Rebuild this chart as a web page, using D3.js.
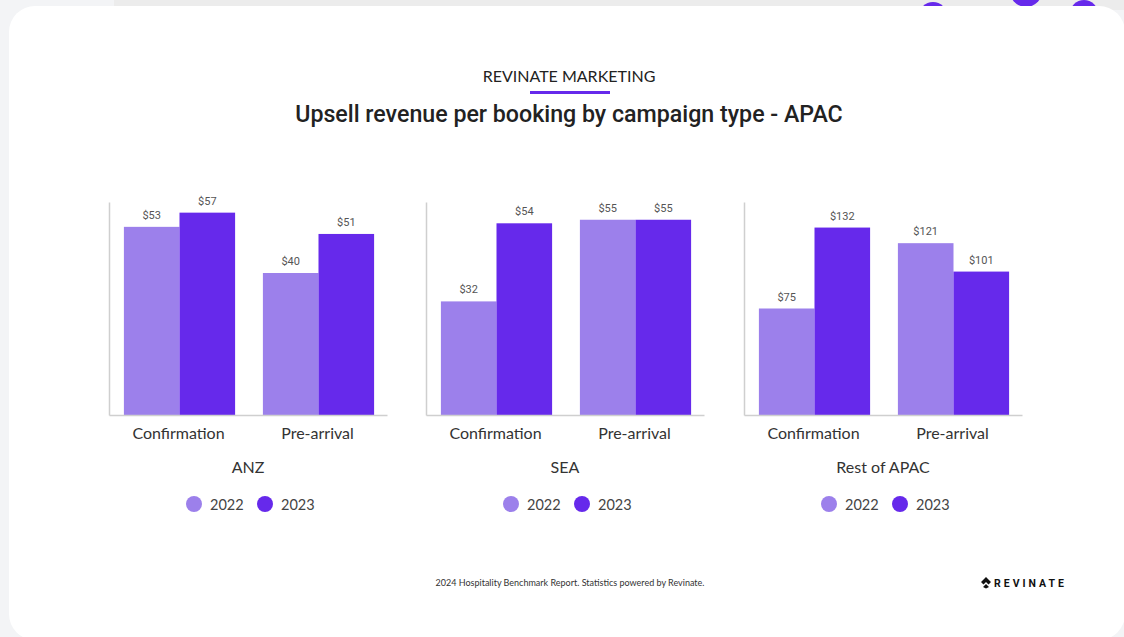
<!DOCTYPE html>
<html>
<head>
<meta charset="utf-8">
<script src="https://cdn.jsdelivr.net/npm/d3@7"></script>
<style>
  html, body { margin: 0; padding: 0; background: #f3f4f6; }
  svg { display: block; }
</style>
</head>
<body>
<svg id="chart" width="1124" height="637"></svg>
<script>
// Upsell revenue per booking, by region, campaign type and year
const regions = ["ANZ", "SEA", "Rest of APAC"];
const campaigns = ["Confirmation", "Pre-arrival"];
const years = ["2022", "2023"];
const anzValues = [[53, 57], [40, 51]];
const seaValues = [[32, 54], [55, 55]];
const restValues = [[75, 132], [121, 101]];
const regionValues = [anzValues, seaValues, restValues];
const yMax = [60, 60, 150];
const yearColors = ["#9c80eb", "#6629eb"];

const svg = d3.select("#chart");
const W = 1124, H = 637;

// page background and card
svg.append("rect").attr("x", 0).attr("y", 0).attr("width", W).attr("height", H).attr("fill", "#f3f4f6");
svg.append("rect").attr("x", 114).attr("y", 0).attr("width", W - 114).attr("height", 10).attr("fill", "#ececec");
// decorative shapes peeking above the card
svg.append("circle").attr("cx", 933).attr("cy", 16).attr("r", 14).attr("fill", "#6629eb");
svg.append("circle").attr("cx", 1026).attr("cy", -9).attr("r", 16).attr("fill", "#6629eb");
svg.append("circle").attr("cx", 1084).attr("cy", 14).attr("r", 14).attr("fill", "#6629eb");
svg.append("rect").attr("x", 9).attr("y", 6).attr("width", 1116).attr("height", 634)
  .attr("rx", 26).attr("fill", "#ffffff");

// heading
svg.append("text").attr("x", 569).attr("y", 82).attr("text-anchor", "middle")
  .attr("font-family", "Lato, sans-serif").attr("font-size", 16).attr("fill", "#222")
  .text("REVINATE MARKETING");
svg.append("rect").attr("x", 530).attr("y", 91).attr("width", 80).attr("height", 3).attr("fill", "#6629eb");
svg.append("text").attr("x", 569).attr("y", 122).attr("text-anchor", "middle")
  .attr("font-family", "Roboto, sans-serif").attr("font-weight", 500).attr("font-size", 23.2)
  .attr("fill", "#222").text("Upsell revenue per booking by campaign type - APAC");

// panels
const panelLeft = [109, 426, 744];
const panelWidth = 278;
const baseY = 415, topY = 202;

regions.forEach((region, i) => {
  const g = svg.append("g");
  const x0 = d3.scaleBand().domain(campaigns)
    .range([panelLeft[i], panelLeft[i] + panelWidth])
    .paddingInner(0.2).paddingOuter(0.1);
  const x1 = d3.scaleBand().domain(years).range([0, x0.bandwidth()]);
  const y = d3.scaleLinear().domain([0, yMax[i]]).range([baseY, topY]);

  const data = campaigns.flatMap((c, ci) =>
    years.map((yr, yi) => ({ c, yr, yi, v: regionValues[i][ci][yi] })));

  g.selectAll("rect.bar").data(data).join("rect")
    .attr("class", "bar")
    .attr("x", d => x0(d.c) + x1(d.yr) + 1)
    .attr("width", x1.bandwidth())
    .attr("y", d => y(d.v))
    .attr("height", d => y(0) - y(d.v))
    .attr("fill", d => yearColors[d.yi]);

  g.selectAll("text.val").data(data).join("text")
    .attr("class", "val")
    .attr("x", d => x0(d.c) + x1(d.yr) + 1 + x1.bandwidth() / 2)
    .attr("y", d => y(d.v) - 8)
    .attr("text-anchor", "middle")
    .attr("font-family", "Roboto, sans-serif").attr("font-size", 11).attr("fill", "#555")
    .text(d => "$" + d.v);

  // vertical axis line
  const yAxis = g.append("g").attr("transform", `translate(${panelLeft[i]},0)`)
    .call(d3.axisLeft(y).tickValues([]).tickSizeOuter(0));
  yAxis.select(".domain").attr("stroke", "#cfcfcf").attr("stroke-width", 1.5);

  // category axis
  const xAxis = g.append("g").attr("transform", `translate(0,${baseY})`)
    .call(d3.axisBottom(x0).tickSize(0).tickSizeOuter(0).tickPadding(13));
  xAxis.select(".domain").attr("stroke", "#cfcfcf").attr("stroke-width", 1.5);
  xAxis.selectAll(".tick text")
    .attr("font-family", "Lato, sans-serif").attr("font-size", 16).attr("fill", "#333");

  const cx = panelLeft[i] + panelWidth / 2;
  g.append("text").attr("x", cx).attr("y", 473).attr("text-anchor", "middle")
    .attr("font-family", "Lato, sans-serif").attr("font-size", 16).attr("fill", "#333")
    .text(region);

  // legend
  const legX = [cx - 54, cx + 17];
  years.forEach((yr, yi) => {
    g.append("circle").attr("cx", legX[yi]).attr("cy", 504).attr("r", 8).attr("fill", yearColors[yi]);
    g.append("text").attr("x", legX[yi] + 16).attr("y", 510)
      .attr("font-family", "Lato, sans-serif").attr("font-size", 14.5).attr("fill", "#444")
      .text(yr);
  });
});

// footer
svg.append("text").attr("x", 570).attr("y", 586).attr("text-anchor", "middle")
  .attr("font-family", "Lato, sans-serif").attr("font-size", 9).attr("fill", "#333")
  .text("2024 Hospitality Benchmark Report. Statistics powered by Revinate.");
const logo = svg.append("g").attr("transform", "translate(981,583)");
logo.append("path").attr("d", "M5,-6 L10,-1 L7.5,1.5 L5,-1 L2.5,1.5 L0,-1 Z M5,1 L8,4 L5,5.5 L2,4 Z")
  .attr("fill", "#111");
logo.append("text").attr("x", 13).attr("y", 4).attr("font-family", "Roboto, sans-serif")
  .attr("font-weight", 700).attr("font-size", 10.5).attr("letter-spacing", 3).attr("fill", "#111")
  .text("REVINATE");
</script>
</body>
</html>
